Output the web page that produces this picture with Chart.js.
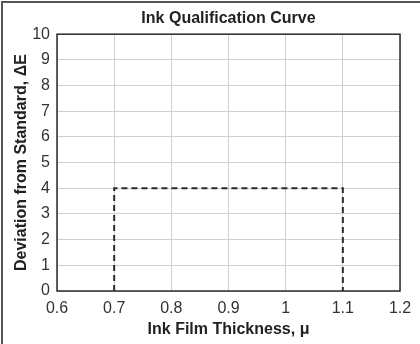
<!DOCTYPE html>
<html>
<head>
<meta charset="utf-8">
<script src="https://cdn.jsdelivr.net/npm/chart.js@4/dist/chart.umd.min.js"></script>
<style>
  html, body { margin: 0; padding: 0; background: #fff; }
  #wrap { width: 420px; height: 344px; position: relative; }
</style>
</head>
<body>
<div id="wrap"><canvas id="c" width="420" height="344"></canvas></div>
<script>
// ---- data ----
const chartTitle = 'Ink Qualification Curve';
const xAxisTitle = 'Ink Film Thickness, \u03bc';
const yAxisTitle = 'Deviation from Standard, \u0394E';
const thicknessValues = [0.7, 0.7, 1.1, 1.1];
const deviationValues = [0, 4, 4, 0];
const xTickValues = [0.6, 0.7, 0.8, 0.9, 1.0, 1.1, 1.2];
const xTickLabels = ['0.6', '0.7', '0.8', '0.9', '1', '1.1', '1.2'];
const yTickValues = [0, 1, 2, 3, 4, 5, 6, 7, 8, 9, 10];

const FONT = '"Liberation Sans", Arial, Helvetica, sans-serif';

const framePlugin = {
  id: 'frame',
  afterDraw(chart) {
    const ctx = chart.ctx;
    const a = chart.chartArea;
    ctx.save();
    // plot box
    ctx.strokeStyle = '#2b2b2b';
    ctx.lineWidth = 1.5;
    ctx.strokeRect(a.left, a.top, a.right - a.left, a.bottom - a.top);
    // outer frame (left & top)
    ctx.fillStyle = '#555';
    ctx.fillRect(1, 1, 2, chart.height - 1);
    ctx.fillRect(1, 1, chart.width - 1, 2);
    ctx.restore();
  }
};

new Chart(document.getElementById('c'), {
  type: 'scatter',
  data: {
    datasets: [{
      data: thicknessValues.map((x, i) => ({ x: x, y: deviationValues[i] })),
      showLine: true,
      borderColor: '#2b2b2b',
      borderWidth: 2,
      borderDash: [6, 4],
      pointRadius: 0,
      fill: false,
      tension: 0
    }]
  },
  options: {
    responsive: false,
    animation: false,
    layout: { padding: { left: 0, right: 20, top: 0, bottom: 0 } },
    plugins: {
      legend: { display: false },
      tooltip: { enabled: false },
      title: {
        display: true,
        text: chartTitle,
        fullSize: false,
        color: '#222',
        font: { family: FONT, size: 16, weight: 'bold' },
        padding: { top: 9, bottom: 6 }
      }
    },
    scales: {
      x: {
        type: 'linear',
        min: 0.6,
        max: 1.2,
        afterBuildTicks(scale) { scale.ticks = xTickValues.map(v => ({ value: v })); },
        afterFit(scale) { scale.height = 53; },
        ticks: {
          color: '#333',
          font: { family: FONT, size: 16 },
          padding: 8,
          maxRotation: 0,
          autoSkip: false,
          callback: (v, i) => xTickLabels[i]
        },
        grid: { color: '#cfcfcf', lineWidth: 1, drawTicks: false },
        border: { display: false },
        title: {
          display: true,
          text: xAxisTitle,
          color: '#222',
          font: { family: FONT, size: 16, weight: 'bold' },
          padding: { top: 0, bottom: 5 }
        }
      },
      y: {
        type: 'linear',
        min: 0,
        max: 10,
        afterBuildTicks(scale) { scale.ticks = yTickValues.map(v => ({ value: v })); },
        afterFit(scale) { scale.width = 57; },
        ticks: {
          color: '#333',
          font: { family: FONT, size: 16 },
          padding: 7,
          autoSkip: false
        },
        grid: { color: '#cfcfcf', lineWidth: 1, drawTicks: false },
        border: { display: false },
        title: {
          display: true,
          text: yAxisTitle,
          color: '#222',
          font: { family: FONT, size: 16, weight: 'bold' },
          padding: { top: 12, bottom: 0 }
        }
      }
    }
  },
  plugins: [framePlugin]
});
</script>
</body>
</html>
